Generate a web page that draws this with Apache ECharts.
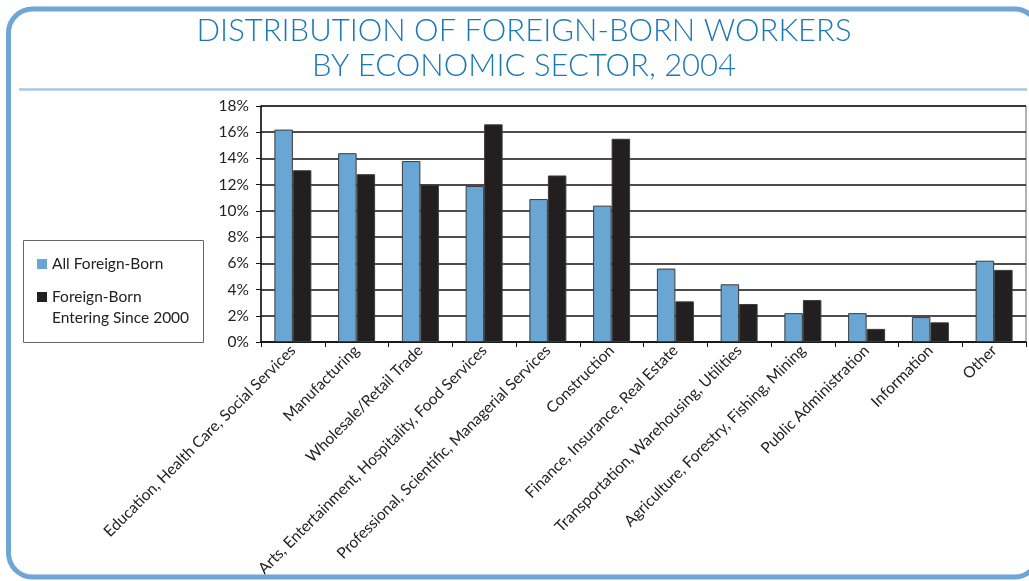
<!DOCTYPE html>
<html>
<head>
<meta charset="utf-8">
<title>Distribution of Foreign-Born Workers by Economic Sector, 2004</title>
<script src="https://cdn.jsdelivr.net/npm/echarts@6/dist/echarts.min.js"></script>
<style>
  html, body { margin: 0; padding: 0; background: #fff; }
  #chart { width: 1029px; height: 581px; }
</style>
</head>
<body>
<div id="chart"></div>
<script>
// 行业分类
const sectors = [
  'Education, Health Care, Social Services',
  'Manufacturing',
  'Wholesale/Retail Trade',
  'Arts, Entertainment, Hospitality, Food Services',
  'Professional, Scientific, Managerial Services',
  'Construction',
  'Finance, Insurance, Real Estate',
  'Transportation, Warehousing, Utilities',
  'Agriculture, Forestry, Fishing, Mining',
  'Public Administration',
  'Information',
  'Other'
];

// 百分比数值
const allForeignBorn = [16.2, 14.4, 13.8, 11.9, 10.9, 10.4, 5.6, 4.4, 2.2, 2.2, 1.9, 6.2];
const since2000 = [13.1, 12.8, 12.0, 16.6, 12.7, 15.5, 3.1, 2.9, 3.2, 1.0, 1.5, 5.5];

const seriesNames = ['All Foreign-Born', 'Foreign-Born Entering Since 2000'];
const titleLines = ['DISTRIBUTION OF FOREIGN-BORN WORKERS', 'BY ECONOMIC SECTOR, 2004'];

const chart = echarts.init(document.getElementById('chart'));
const font = 'Lato, "Open Sans", sans-serif';

const titleStyle = (text) => ({
  text: text,
  fill: '#1b79b6',
  font: '300 31px ' + font,
  textAlign: 'center',
  textVerticalAlign: 'middle'
});

const option = {
  animation: false,
  backgroundColor: '#fff',
  textStyle: { fontFamily: font },
  graphic: [
    // 外框（右侧超出画面）
    {
      type: 'rect',
      shape: { x: 8.5, y: 9, width: 1030, height: 568, r: 24 },
      style: { fill: 'none', stroke: '#6fa6d3', lineWidth: 5 },
      silent: true
    },
    // 标题下分隔线
    {
      type: 'line',
      shape: { x1: 19, y1: 89.5, x2: 1027, y2: 89.5 },
      style: { stroke: '#a8c8e4', lineWidth: 2.5 },
      silent: true
    },
    { type: 'text', x: 524, y: 31, style: titleStyle(titleLines[0]) },
    { type: 'text', x: 524, y: 66, style: titleStyle(titleLines[1]) },
    // 图例外框
    {
      type: 'rect',
      shape: { x: 23.5, y: 240.5, width: 180, height: 102 },
      style: { fill: '#fff', stroke: '#666', lineWidth: 1 },
      z: 1,
      silent: true
    },
    // 图例第二项的第二行
    {
      type: 'text',
      x: 52,
      y: 318,
      z: 6,
      style: {
        text: 'Entering Since 2000',
        fill: '#222',
        font: '15.5px ' + font,
        textVerticalAlign: 'middle'
      }
    }
  ],
  legend: {
    orient: 'vertical',
    left: 37,
    top: 253.5,
    padding: 0,
    itemWidth: 10,
    itemHeight: 10,
    itemGap: 12,
    icon: 'rect',
    z: 5,
    data: seriesNames,
    itemStyle: { borderWidth: 0 },
    formatter: name => name === seriesNames[1] ? 'Foreign-Born' : name,
    textStyle: { fontSize: 15.5, color: '#222', lineHeight: 21 }
  },
  grid: {
    left: 261,
    right: 3,
    top: 106,
    bottom: 239,
    show: true,
    borderColor: '#666',
    borderWidth: 1
  },
  xAxis: {
    type: 'category',
    data: sectors,
    axisLine: { lineStyle: { color: '#111', width: 1.5 } },
    axisTick: { show: true, length: 5, lineStyle: { color: '#111' } },
    axisLabel: {
      interval: 0,
      rotate: 45,
      fontSize: 15.5,
      color: '#222',
      margin: 6
    }
  },
  yAxis: {
    type: 'value',
    min: 0,
    max: 18,
    interval: 2,
    axisLine: { show: true, lineStyle: { color: '#111', width: 1.5 } },
    axisTick: { show: true, length: 5, lineStyle: { color: '#111' } },
    axisLabel: { formatter: '{value}%', fontSize: 15.5, color: '#222', margin: 12 },
    splitLine: { lineStyle: { color: '#111', width: 1.5 } }
  },
  series: [
    {
      name: seriesNames[0],
      type: 'bar',
      data: allForeignBorn,
      barGap: '0%',
      barCategoryGap: '42%',
      itemStyle: { color: '#6aa6d4', borderColor: '#3a3a3a', borderWidth: 1 }
    },
    {
      name: seriesNames[1],
      type: 'bar',
      data: since2000,
      itemStyle: { color: '#231f20', borderColor: '#3a3a3a', borderWidth: 1 }
    }
  ]
};

chart.setOption(option);
</script>
</body>
</html>
